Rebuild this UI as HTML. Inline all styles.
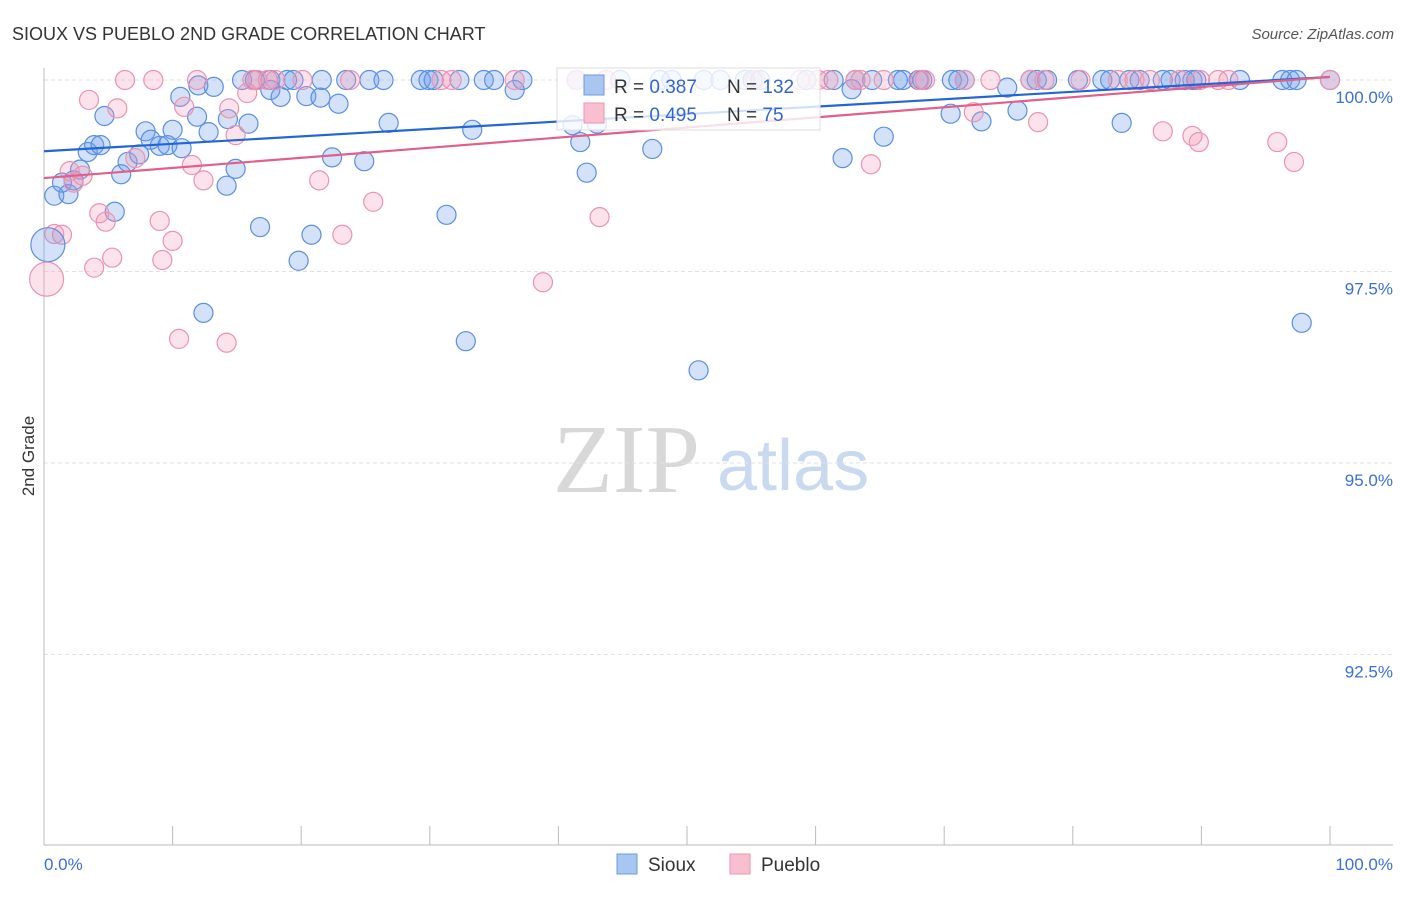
<!DOCTYPE html>
<html><head><meta charset="utf-8"><style>
body{margin:0;background:#fff;width:1406px;height:892px;overflow:hidden;font-family:"Liberation Sans",sans-serif}
svg text{font-family:"Liberation Sans",sans-serif}
</style></head><body>
<svg id="chart" width="1406" height="892" viewBox="0 0 1406 892" xmlns="http://www.w3.org/2000/svg">
<text x="12" y="40" font-size="18" fill="#333">SIOUX VS PUEBLO 2ND GRADE CORRELATION CHART</text>
<text x="1394" y="39" font-size="15" fill="#555" font-style="italic" text-anchor="end">Source: ZipAtlas.com</text>
<g>
<text x="553" y="492" font-size="98" fill="#d8d8d8" style="font-family:'Liberation Serif',serif">ZIP</text>
<text x="717" y="490" font-size="72" fill="#c9d9f0">atlas</text>
</g>
<g id="grid"></g>
<g id="yticks"></g>
<line x1="44" y1="68" x2="44" y2="845" stroke="#bbb"/>
<line x1="44" y1="845" x2="1393" y2="845" stroke="#bbb"/>
<g id="xticks"></g>
<text x="44" y="870" font-size="17" fill="#3b6fd4">0.0%</text>
<text x="1393" y="870" font-size="17" fill="#3b6fd4" text-anchor="end">100.0%</text>
<text transform="translate(34,456) rotate(-90)" font-size="17" fill="#333" text-anchor="middle">2nd Grade</text>
<g id="points"></g>
<g id="trends"></g>
<g>
<rect x="557" y="68" width="263" height="62" fill="#fff" fill-opacity="0.8" stroke="#ddd"/>
<rect x="584" y="75" width="20" height="20" fill="#a9c6f0" stroke="#6a9be0"/>
<rect x="584" y="103" width="20" height="20" fill="#f8bfd0" stroke="#ea94b0"/>
<text x="614" y="93" font-size="19" fill="#333">R = <tspan fill="#3366cc">0.387</tspan></text>
<text x="727" y="93" font-size="19" fill="#333">N = <tspan fill="#3366cc">132</tspan></text>
<text x="614" y="121" font-size="19" fill="#333">R = <tspan fill="#3366cc">0.495</tspan></text>
<text x="727" y="121" font-size="19" fill="#333">N = <tspan fill="#3366cc"> 75</tspan></text>
</g>
<g>
<rect x="617" y="854" width="20" height="20" fill="#a9c6f0" stroke="#6a9be0"/>
<text x="648" y="871" font-size="19" fill="#333">Sioux</text>
<rect x="730" y="854" width="20" height="20" fill="#f8bfd0" stroke="#ea94b0"/>
<text x="761" y="871" font-size="19" fill="#333">Pueblo</text>
</g>
</svg>
<script>
const yTicks=[100,97.5,95,92.5];
const yTickLabels=["100.0%","97.5%","95.0%","92.5%"];
const siouxTopX=[15.4,16.4,17.6,18.9,19.4,21.6,23.5,25.3,26.4,29.3,29.9,30.3,32.3,34.2,35.0,37.2,41.4,44.8,47.9,48.8,51.3,52.6,54.5,55.1,55.7,59.3,61.4,63.1,64.4,66.4,66.8,68.0,68.3,70.6,71.1,71.6,76.7,77.2,78.0,80.4,82.3,82.9,84.4,85.2,87.0,87.6,88.7,89.3,89.6,93.0,96.3,96.9,97.4,100];
const siouxX=[0.8,1.9,1.4,2.8,2.3,3.4,3.9,4.4,4.7,5.5,6.0,6.5,7.4,7.9,8.3,9.0,9.6,10.0,10.6,10.7,11.9,12.0,12.4,12.8,13.2,14.2,14.3,14.9,15.9,16.8,17.6,18.4,19.8,20.4,20.8,21.5,22.4,22.9,24.9,26.8,31.3,32.8,33.3,36.6,41.1,41.7,42.2,43.0,47.3,50.9,62.1,62.8,65.3,70.5,72.9,75.7,83.8,74.9,97.8];
const siouxY=[98.49,98.51,98.66,98.83,98.69,99.06,99.15,99.15,99.53,98.28,98.77,98.93,99.03,99.33,99.22,99.14,99.15,99.35,99.78,99.11,99.52,99.93,96.96,99.32,99.91,98.62,99.49,98.84,99.43,98.08,99.87,99.78,97.64,99.79,97.98,99.77,98.99,99.69,98.94,99.44,98.24,96.59,99.35,99.87,99.41,99.19,98.79,99.43,99.10,96.21,98.98,99.88,99.26,99.56,99.46,99.60,99.44,99.90,96.83];
const puebloTopX=[6.3,8.5,11.9,16.2,16.6,17.4,18.0,20.1,23.8,30.9,31.7,36.6,41.4,43.7,55.3,58.8,60.2,61.0,63.1,63.5,65.3,68.1,68.5,71.6,73.6,76.7,77.8,80.6,83.5,84.8,86.0,88.3,89.9,91.3,92.1,100];
const puebloX=[0.8,1.4,2.0,2.3,3.0,3.5,3.9,4.3,4.8,5.3,5.7,7.1,9.0,9.2,10.0,10.5,10.9,11.5,12.4,14.2,14.4,14.9,15.8,21.4,23.2,25.6,38.8,43.2,64.3,72.3,77.3,87.0,89.3,89.8,95.9,97.2];
const puebloY=[97.99,97.98,98.81,98.66,98.75,99.74,97.55,98.26,98.15,97.68,99.63,98.98,98.16,97.65,97.90,96.62,99.65,98.89,98.69,96.57,99.63,99.28,99.83,98.69,97.98,98.41,97.36,98.21,98.90,99.58,99.45,99.33,99.27,99.19,99.19,98.93];
const bigPoints=[{s:"sioux",x:0.3,y:97.85},{s:"pueblo",x:0.2,y:97.40}];
const trendSioux=[99.07,100.04];
const trendPueblo=[98.72,100.04];
const NS="http://www.w3.org/2000/svg";
const xs=v=>44+v*12.86;
const ys=v=>80+(100-v)*76.6;
const grid=document.getElementById('grid'),yt=document.getElementById('yticks'),xt=document.getElementById('xticks');
yTicks.forEach((t,i)=>{
 const l=document.createElementNS(NS,'line');
 l.setAttribute('x1',44);l.setAttribute('x2',1393);l.setAttribute('y1',ys(t));l.setAttribute('y2',ys(t));
 l.setAttribute('stroke','#e2e2e2');l.setAttribute('stroke-dasharray','4,3');
 
 
 grid.appendChild(l);
 const tx=document.createElementNS(NS,'text');
 tx.setAttribute('x',1393);tx.setAttribute('y',ys(t)+23);tx.setAttribute('text-anchor','end');
 tx.setAttribute('font-size','17');tx.setAttribute('fill','#3b6fd4');tx.textContent=yTickLabels[i];
 
 
 yt.appendChild(tx);
});
for(let i=0;i<=10;i++){
 const l=document.createElementNS(NS,'line');
 const x=xs(i*10);
 l.setAttribute('x1',x);l.setAttribute('x2',x);l.setAttribute('y1',826);l.setAttribute('y2',845);l.setAttribute('stroke','#bbb');
 
 
 xt.appendChild(l);
}
const pts=document.getElementById('points');
function dot(x,y,s,r){
 const c=document.createElementNS(NS,'circle');
 c.setAttribute('cx',xs(x));c.setAttribute('cy',ys(y));c.setAttribute('r',r);
 if(s==='sioux'){c.setAttribute('fill','rgba(110,160,235,0.3)');c.setAttribute('stroke','#5b8fe0');}
 else{c.setAttribute('fill','rgba(245,150,180,0.28)');c.setAttribute('stroke','#eb93b0');}
 c.setAttribute('stroke-width','1.2');
 
 
 pts.appendChild(c);
}
siouxTopX.forEach(x=>dot(x,100,'sioux',9.5));
siouxX.forEach((x,i)=>dot(x,siouxY[i],'sioux',9.5));
puebloTopX.forEach(x=>dot(x,100,'pueblo',9.5));
puebloX.forEach((x,i)=>dot(x,puebloY[i],'pueblo',9.5));
bigPoints.forEach(p=>dot(p.x,p.y,p.s,17));
const tr=document.getElementById('trends');
[[trendSioux,'#2266d6','sioux-trend-line'],[trendPueblo,'#e0608a','pueblo-trend-line']].forEach(([t,c,n])=>{
 const l=document.createElementNS(NS,'line');
 l.setAttribute('x1',xs(0));l.setAttribute('x2',xs(100));l.setAttribute('y1',ys(t[0]));l.setAttribute('y2',ys(t[1]));
 l.setAttribute('stroke',c);l.setAttribute('stroke-width','2.2');
 
 
 tr.appendChild(l);
});
</script>
</body></html>
